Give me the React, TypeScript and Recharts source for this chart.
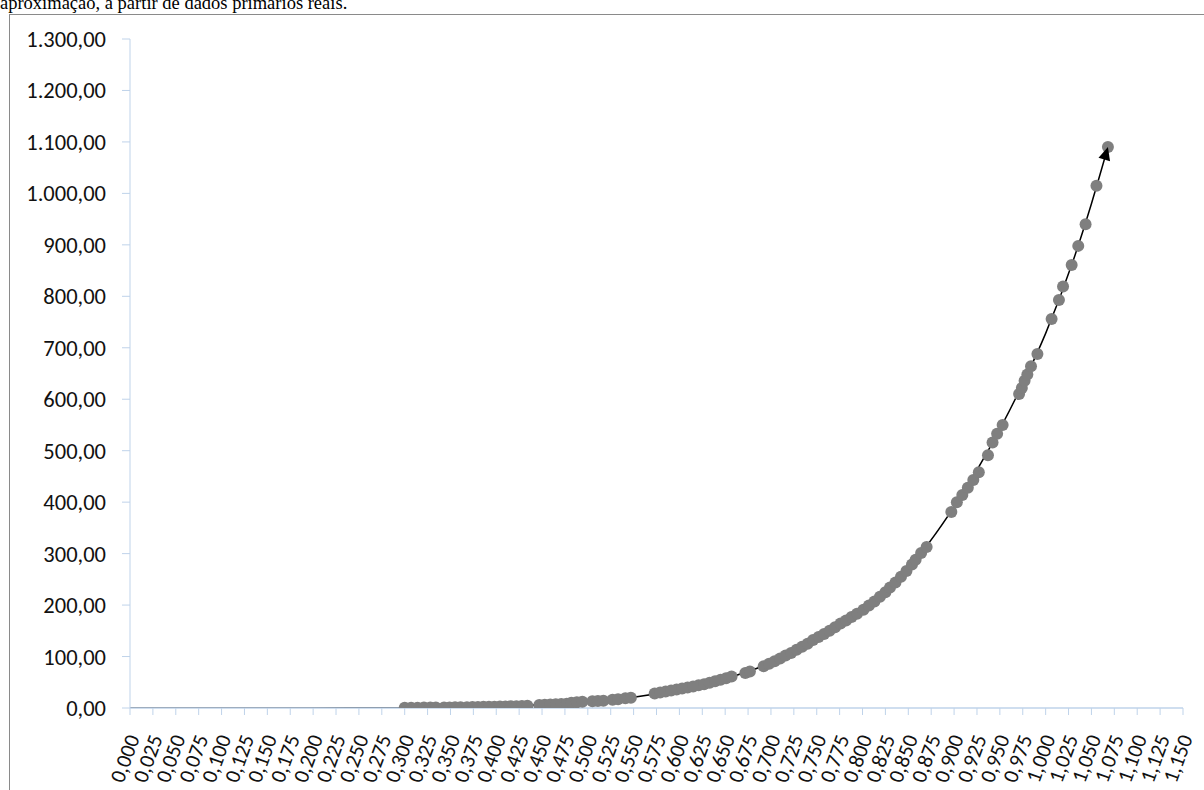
import React from 'react';
import { ComposedChart, XAxis, YAxis, Scatter, Line } from 'recharts';

// Axis ticks
const xTicks = [
  0, 0.025, 0.05, 0.075, 0.1, 0.125, 0.15, 0.175, 0.2, 0.225, 0.25, 0.275,
  0.3, 0.325, 0.35, 0.375, 0.4, 0.425, 0.45, 0.475, 0.5, 0.525, 0.55, 0.575,
  0.6, 0.625, 0.65, 0.675, 0.7, 0.725, 0.75, 0.775, 0.8, 0.825, 0.85, 0.875,
  0.9, 0.925, 0.95, 0.975, 1.0, 1.025, 1.05, 1.075, 1.1, 1.125, 1.15,
];
const yTicks = [0, 100, 200, 300, 400, 500, 600, 700, 800, 900, 1000, 1100, 1200, 1300];

// Observed samples
const sampleX = [
  0.300, 0.307, 0.314, 0.321, 0.328, 0.334,
  0.343, 0.349, 0.355, 0.361,
  0.368, 0.374, 0.380, 0.386, 0.392, 0.398, 0.404, 0.410, 0.416, 0.422, 0.428, 0.434,
  0.447, 0.453, 0.459, 0.465, 0.471, 0.477,
  0.482, 0.488, 0.494,
  0.505, 0.511, 0.517,
  0.527, 0.533, 0.541, 0.547,
  0.573, 0.579, 0.585, 0.591, 0.597,
  0.603, 0.609, 0.615, 0.621,
  0.627, 0.633, 0.639, 0.645, 0.651, 0.657,
  0.672, 0.677,
  0.692, 0.698, 0.704, 0.710, 0.716,
  0.722, 0.728, 0.734, 0.740, 0.746, 0.752,
  0.758, 0.764, 0.770, 0.776, 0.782, 0.788, 0.794,
  0.801, 0.807, 0.813, 0.819, 0.825, 0.830,
  0.836, 0.842, 0.848, 0.854,
  0.858, 0.864, 0.870,
  0.897,
  0.903, 0.909, 0.915, 0.921, 0.927,
  0.937,
  0.942, 0.947, 0.953,
  0.971, 0.974, 0.977, 0.980, 0.984, 0.991,
  1.0065, 1.0145, 1.019, 1.0284, 1.0356, 1.0436, 1.0555, 1.068,
];
const sampleY = [
  0.5, 0.6, 0.7, 0.8, 0.9, 1.0,
  1.1, 1.2, 1.3, 1.4,
  1.6, 1.8, 2.0, 2.2, 2.4, 2.6, 2.8, 3.0, 3.3, 3.6, 3.9, 4.2,
  6, 6.5, 7, 7.5, 8, 8.5,
  10, 11, 12,
  13, 13.5, 14,
  16, 17, 19, 20,
  28, 30, 32, 34, 36,
  38, 40, 42, 44,
  46, 49, 52, 55, 58, 61,
  68, 71,
  81, 86, 91, 96, 102,
  107, 113, 119, 125, 132, 138,
  144, 150, 157, 164, 170, 177, 183,
  191, 199, 207, 216, 225, 234,
  244, 255, 266, 279,
  288, 301, 313,
  381,
  400, 414, 428, 443, 458,
  491,
  516, 533, 550,
  610, 622, 636, 648, 664, 688,
  756, 793, 819, 861, 898, 940, 1015, 1090,
];

// Fitted trend curve
const trendX = [0, 0.1, 0.2, 0.25, 0.3, 0.35, 0.4, 0.45, 0.5, 0.55, 0.6, 0.65, 0.7, 0.75, 0.8, 0.85, 0.9, 0.95, 0.975, 1.0, 1.03, 1.05, 1.068];
const trendY = [0, 0, 0.1, 0.3, 0.6, 1.5, 3.2, 6.5, 12, 21, 36, 57, 88, 135, 189, 271, 391, 542, 630, 728, 869, 980, 1090];

const sampleData = sampleX.map((x, i) => ({ x, y: sampleY[i] }));
const trendData = trendX.map((x, i) => ({ x, y: trendY[i] }));

const AXIS_BLUE = '#bfd3ea';
const LABEL_FONT = 'Carlito, Lato, "Open Sans", sans-serif';

const fmtX = (v: number) => v.toFixed(3).replace('.', ',');
const fmtY = (v: number) => {
  const n = Math.round(v);
  const th = Math.floor(n / 1000);
  const rest = n % 1000;
  const body = th > 0 ? `${th}.${String(rest).padStart(3, '0')}` : `${rest}`;
  return `${body},00`;
};

const XTick = (props: any) => {
  const { x, y, payload } = props;
  return (
    <text
      x={0}
      y={0}
      transform={`translate(${x + 10},${y + 23}) rotate(-70)`}
      textAnchor="end"
      fontFamily={LABEL_FONT}
      fontSize={21.5}
      fill="#111"
    >
      {fmtX(payload.value)}
    </text>
  );
};

const SampleDot = (props: any) => {
  const { cx, cy } = props;
  return <circle cx={cx} cy={cy} r={6} fill="#7f7f7f" />;
};

// Arrowhead at the end of the trend line, oriented along the last segment
const TrendEnd = (props: any) => {
  const { cx, cy, index, points } = props;
  const last = trendData.length - 1;
  if (index !== last || cx == null) return <g key={`d-${index}`} />;
  let ang = -73 * Math.PI / 180;
  if (points && points.length > 1) {
    const p = points[points.length - 2];
    ang = Math.atan2(cy - p.y, cx - p.x);
  }
  const len = 13;
  const half = 6;
  const bx = cx - len * Math.cos(ang);
  const by = cy - len * Math.sin(ang);
  const nx = -Math.sin(ang);
  const ny = Math.cos(ang);
  const d = `M${cx},${cy} L${bx + half * nx},${by + half * ny} L${bx - half * nx},${by - half * ny} Z`;
  return <path key={`d-${index}`} d={d} fill="#000" />;
};

export default function App() {
  return (
    <div style={{ position: 'absolute', left: 0, top: 0, width: 1204, height: 790, overflow: 'hidden', background: '#fff' }}>
      <svg width={1204} height={30} style={{ position: 'absolute', left: 0, top: 0 }}>
        <text x={0} y={8.5} fontFamily='"Liberation Serif", "Times New Roman", serif' fontSize={18.5} fill="#000">
          aproximação, a partir de dados primários reais.
        </text>
      </svg>
      <div
        style={{
          position: 'absolute',
          left: 9,
          top: 14,
          width: 1300,
          height: 900,
          borderLeft: '1px solid #8a8a8a',
          borderTop: '1px solid #8a8a8a',
        }}
      />
      <div style={{ position: 'absolute', left: 0, top: 0 }}>
        <ComposedChart width={1204} height={790} margin={{ top: 39, right: 21, bottom: 0, left: 0 }}>
          <XAxis
            type="number"
            dataKey="x"
            domain={[0, 1.15]}
            ticks={xTicks}
            interval={0}
            height={82}
            axisLine={{ stroke: AXIS_BLUE, strokeWidth: 1.5 }}
            tickLine={{ stroke: AXIS_BLUE }}
            tickSize={7}
            tickMargin={0}
            tick={<XTick />}
            allowDataOverflow
          />
          <YAxis
            type="number"
            dataKey="y"
            domain={[0, 1300]}
            ticks={yTicks}
            interval={0}
            width={130}
            axisLine={{ stroke: AXIS_BLUE }}
            tickLine={{ stroke: AXIS_BLUE }}
            tickSize={8}
            tickMargin={16}
            tickFormatter={fmtY}
            tick={{ fontFamily: LABEL_FONT, fontSize: 22.5, fill: '#111' }}
            allowDataOverflow
          />
          <Scatter data={sampleData} dataKey="y" shape={<SampleDot />} isAnimationActive={false} />
          <Line
            data={trendData}
            dataKey="y"
            type="monotone"
            stroke="#000"
            strokeWidth={1.5}
            dot={TrendEnd}
            activeDot={false}
            isAnimationActive={false}
          />
        </ComposedChart>
      </div>
    </div>
  );
}
